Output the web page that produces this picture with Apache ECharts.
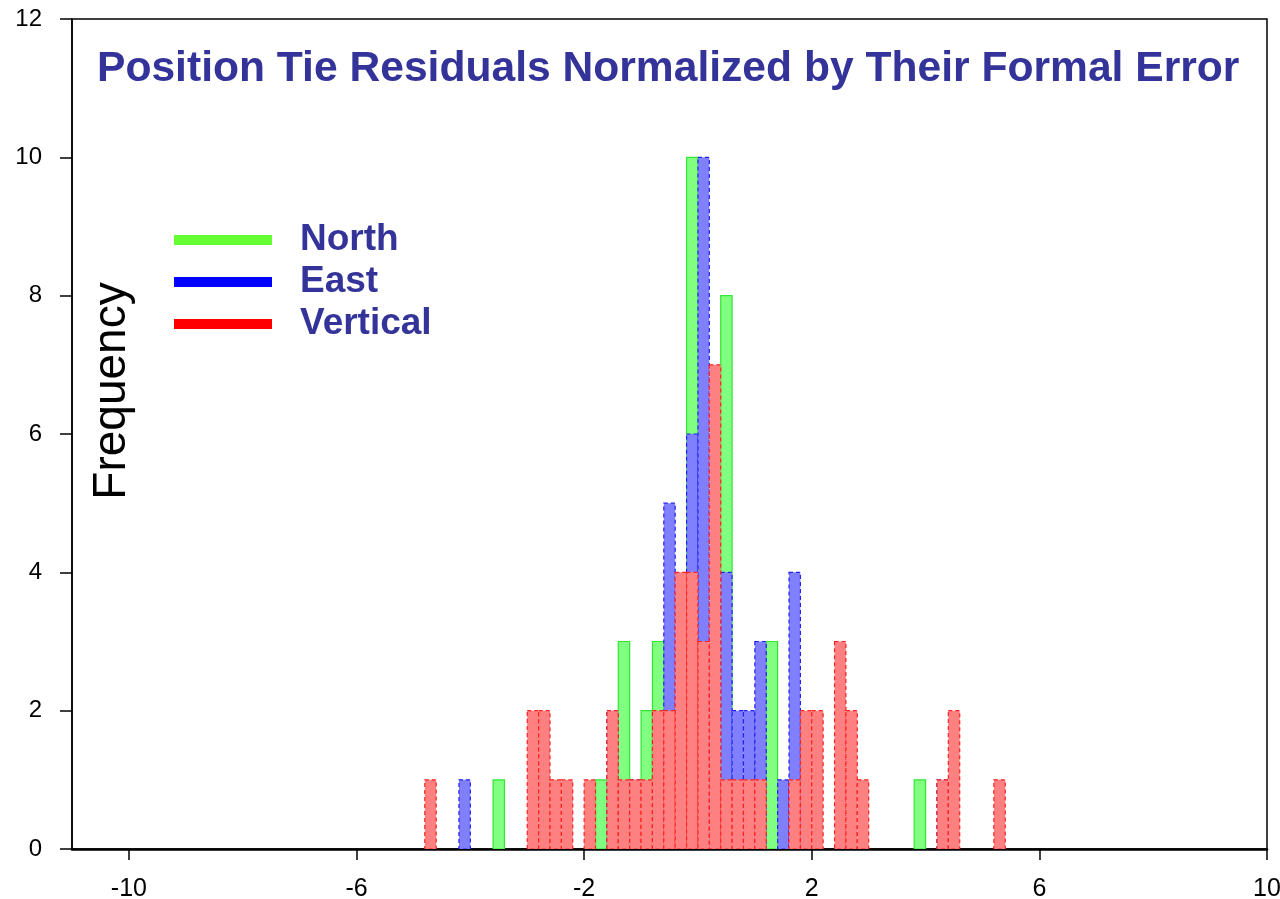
<!DOCTYPE html>
<html>
<head>
<meta charset="UTF-8">
<title>Position Tie Residuals</title>
<script src="https://cdn.jsdelivr.net/npm/echarts@6/dist/echarts.min.js"></script>
<style>
  html, body { margin: 0; padding: 0; background: #fff; }
  #main { width: 1280px; height: 899px; }
</style>
</head>
<body>
<div id="main"></div>
<script>
// histogram bins: [left edge, count], bin width 0.2
var binWidth = 0.2;
var northBins = [[-3.6, 1], [-1.8, 1], [-1.4, 3], [-1.0, 2], [-0.8, 3], [-0.2, 10], [0.4, 8], [1.2, 3], [3.8, 1]];
var eastBins = [[-4.2, 1], [-1.6, 2], [-1.2, 1], [-0.6, 5], [-0.2, 6], [0.0, 10], [0.4, 4], [0.6, 2], [0.8, 2],
                [1.0, 3], [1.4, 1], [1.6, 4], [4.2, 1]];
var verticalBins = [[-4.8, 1], [-3.0, 2], [-2.8, 2], [-2.6, 1], [-2.4, 1], [-2.0, 1], [-1.6, 2], [-1.4, 1], [-1.2, 1],
                    [-1.0, 1], [-0.8, 2], [-0.6, 2], [-0.4, 4], [-0.2, 4], [0.0, 3], [0.2, 7], [0.4, 1], [0.6, 1],
                    [0.8, 1], [1.0, 1], [1.6, 1], [1.8, 2], [2.0, 2], [2.4, 3], [2.6, 2], [2.8, 1], [4.2, 1],
                    [4.4, 2], [5.2, 1]];
var xTicks = [-10, -6, -2, 2, 6, 10];

var font = 'Liberation Sans, Arial, Helvetica, sans-serif';

function histSeries(name, data, fill, stroke, dash) {
  return {
    name: name,
    type: 'custom',
    data: data,
    encode: { x: 0, y: 1 },
    clip: true,
    renderItem: function (params, api) {
      var x0 = api.value(0), n = api.value(1);
      var a = api.coord([x0, n]);
      var b = api.coord([x0 + binWidth, 0]);
      return {
        type: 'rect',
        shape: { x: a[0], y: a[1], width: b[0] - a[0], height: b[1] - a[1] },
        style: { fill: fill, stroke: stroke, lineWidth: 1.2, lineDash: dash }
      };
    }
  };
}

var myChart = echarts.init(document.getElementById('main'));
myChart.setOption({
  backgroundColor: '#fff',
  animation: false,
  title: {
    text: 'Position Tie Residuals Normalized by Their Formal Error',
    left: 97,
    top: 48,
    padding: 0,
    textStyle: { fontFamily: font, fontSize: 42.6, fontWeight: 'bold', color: '#333399' }
  },
  legend: {
    orient: 'vertical',
    left: 174,
    top: 219,
    padding: 0,
    itemGap: 0,
    icon: 'rect',
    itemWidth: 98,
    itemHeight: 10,
    textStyle: { fontFamily: font, fontSize: 37, fontWeight: 'bold', color: '#333399', lineHeight: 42, padding: [0, 0, 0, 23] },
    data: [
      { name: 'North', itemStyle: { color: '#66ff33', borderWidth: 0 } },
      { name: 'East', itemStyle: { color: '#0000ff', borderWidth: 0 } },
      { name: 'Vertical', itemStyle: { color: '#ff0000', borderWidth: 0 } }
    ]
  },
  grid: {
    left: 72, right: 13, top: 19, bottom: 50,
    containLabel: false,
    outerBoundsMode: 'none',
    show: true, borderColor: '#000', borderWidth: 1.5
  },
  xAxis: {
    type: 'value',
    min: -11,
    max: 10,
    axisLine: { onZero: false, lineStyle: { color: '#000', width: 2.5 } },
    axisTick: { customValues: xTicks, length: 11, lineStyle: { color: '#000', width: 1.5 } },
    axisLabel: { customValues: xTicks, margin: 28, fontFamily: font, fontSize: 25, color: '#000' },
    splitLine: { show: false }
  },
  yAxis: {
    type: 'value',
    min: 0,
    max: 12,
    interval: 2,
    name: 'Frequency',
    nameLocation: 'middle',
    nameGap: -63,
    nameTextStyle: { fontFamily: font, fontSize: 46, color: '#000', padding: [0, 0, 0, 86] },
    axisLine: { onZero: false, lineStyle: { color: '#000', width: 1.5 } },
    axisTick: { length: 12, lineStyle: { color: '#000', width: 1.5 } },
    axisLabel: { margin: 30, fontFamily: font, fontSize: 24, color: '#000' },
    splitLine: { show: false }
  },
  series: [
    histSeries('North', northBins, '#80ff80', '#33e633', null),
    histSeries('East', eastBins, '#8080ff', '#2222ee', [4, 3]),
    histSeries('Vertical', verticalBins, '#ff8080', '#ff2222', [4, 3])
  ]
});
</script>
</body>
</html>
